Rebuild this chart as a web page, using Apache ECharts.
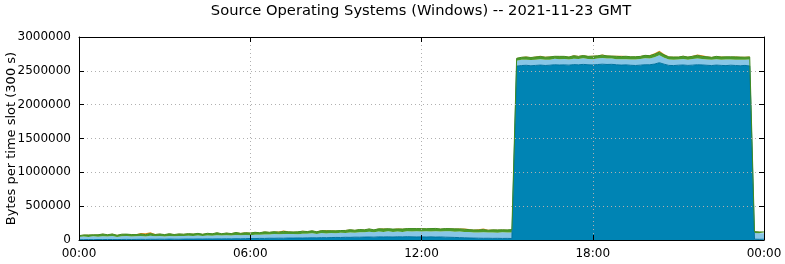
<!DOCTYPE html>
<html>
<head>
<meta charset="utf-8">
<script src="https://cdn.jsdelivr.net/npm/echarts@6/dist/echarts.min.js"></script>
<style>
html,body{margin:0;padding:0;background:#fff;}
#c{width:785px;height:264px;}
</style>
</head>
<body>
<div id="c"></div>
<script>
// Time slots: 10-minute samples across the day (00:00 .. 24:00)
const slotMinutes = 10;
const slotCount = 145; // includes closing 00:00 boundary
const tickEverySlots = 36; // 6 hours
const seriesNames = ["os-a", "os-b", "os-c", "os-d"];

// Values in thousands of bytes per 300 s slot
const osA = [
  4,5,6,5,7,6,8,7,6,8,9,8,
  9,10,9,11,10,12,11,13,12,11,13,14,
  13,15,14,16,15,17,16,18,17,19,18,20,
  22,21,24,23,26,25,27,26,29,28,30,29,
  31,33,32,35,34,36,38,37,40,39,42,41,
  43,44,42,46,45,47,44,48,46,49,47,45,
  46,44,47,43,45,42,40,38,35,33,30,28,
  27,25,26,24,25,23,24,22,
  2570,2578,2582,2575,2580,2585,2579,2583,2590,2586,
  2588,2584,2592,2589,2595,2590,2587,2593,2598,2594,
  2596,2590,2585,2588,2582,2579,2584,2590,2590,2600,
  2620,2598,2580,2578,2583,2586,2580,2584,2590,2587,
  2582,2578,2585,2580,2577,2583,2579,2575,2580,2572,
  12,10,11
];
const osB = [
  40,45,38,50,42,48,44,52,40,46,50,43,
  45,48,42,50,44,46,40,47,43,49,45,48,
  46,50,44,52,47,55,49,53,48,56,51,54,
  50,58,53,60,55,62,57,64,58,61,56,63,
  60,65,58,68,62,66,60,70,64,72,66,75,
  70,78,72,80,74,82,76,79,73,81,77,84,
  80,85,78,88,82,86,90,84,92,86,88,82,
  85,90,84,88,83,92,86,90,
  80,84,82,86,83,88,85,82,87,84,
  86,83,88,85,90,86,84,89,92,88,
  85,83,87,84,86,88,90,95,92,100,
  110,95,88,86,84,88,85,90,94,88,
  86,84,87,85,89,86,84,88,85,95,
  90,88,87
];
const osC = [
  20,25,30,22,28,35,26,30,24,32,28,30,
  26,30,28,34,27,31,29,33,26,30,28,32,
  29,33,27,31,30,35,28,32,30,36,29,34,
  31,35,30,38,33,36,32,37,34,30,35,38,
  34,38,32,36,40,35,38,33,37,41,36,39,
  38,42,36,40,44,38,41,37,43,39,45,40,
  42,38,44,40,36,41,38,43,37,40,35,39,
  36,40,34,38,41,36,39,42,
  35,38,40,36,42,39,37,41,38,44,
  40,37,43,39,41,38,45,40,42,39,
  37,41,38,43,40,42,39,44,42,46,
  45,43,38,40,37,42,39,41,44,38,
  40,37,42,39,41,38,43,40,36,38,
  22,20,21
];
const osD = [
  3,4,3,5,4,3,4,3,5,4,3,4,
  6,14,20,18,8,4,3,4,5,3,4,3,
  4,3,5,4,3,4,3,5,4,3,4,5,
  4,3,5,4,3,4,8,14,7,4,3,5,
  4,5,3,10,12,6,4,3,5,4,3,4,
  5,4,3,4,6,4,3,5,4,3,4,5,
  4,3,5,4,3,4,5,4,6,12,8,4,
  10,14,6,4,3,5,4,3,
  4,5,6,4,8,10,6,5,4,6,
  5,4,6,5,7,4,6,5,8,6,
  5,10,12,6,5,4,6,5,10,15,
  22,12,6,4,5,6,5,8,14,16,
  6,5,4,6,5,4,6,5,8,6,
  4,3,3
];

const colors = ["#0084b4", "#88c6e6", "#4c9a2a", "#e0881a"];
const lineColors = ["#00729e", "#88c6e6", "#3f8c22", "#e0881a"];
const lineWidths = [1, 0, 1, 0];
const allSeries = [osA, osB, osC, osD];

const pad2 = n => String(n).padStart(2, '0');
const categories = Array.from({length: slotCount}, (_, i) => {
  const m = (i * slotMinutes) % 1440;
  return pad2(Math.floor(m / 60)) + ':' + pad2(m % 60);
});

const chart = echarts.init(document.getElementById('c'), null, {renderer: 'canvas'});
const font = "DejaVu Sans";
const axisLine = {show: true, onZero: false, lineStyle: {color: '#000', width: 1}};
const tickIn = {show: true, inside: true, length: 5, interval: tickEverySlots - 1, lineStyle: {color: '#000'}};
const yTickIn = {show: true, inside: true, length: 5, lineStyle: {color: '#000'}};
const gridLine = {lineStyle: {color: '#b0b0b0', type: [1, 3], width: 1}};

chart.setOption({
  animation: false,
  backgroundColor: '#fff',
  title: {
    text: 'Source Operating Systems (Windows) -- 2021-11-23 GMT',
    left: 421, top: 4, textAlign: 'center', padding: 0,
    textStyle: {fontFamily: font, fontSize: 14.7, fontWeight: 'normal', color: '#000'}
  },
  grid: {left: 79, right: 21, top: 37, bottom: 24, outerBoundsMode: 'none', containLabel: false,
    show: false},
  xAxis: [{
    type: 'category', data: categories, boundaryGap: false,
    axisLine: axisLine, axisTick: tickIn,
    axisLabel: {fontFamily: font, fontSize: 12, color: '#000', margin: 8, interval: tickEverySlots - 1,
      showMinLabel: true, showMaxLabel: true},
    splitLine: {show: true, interval: tickEverySlots - 1, showMinLine: false, showMaxLine: false, ...gridLine},
    z: 10
  }, {
    type: 'category', data: categories, boundaryGap: false, position: 'top',
    axisLine: axisLine, axisTick: tickIn, axisLabel: {show: false}, splitLine: {show: false},
    z: 10
  }],
  yAxis: [{
    type: 'value', min: 0, max: 3000000, interval: 500000,
    name: 'Bytes per time slot (300 s)', nameLocation: 'middle', nameGap: 61, nameMoveOverlap: false,
    nameTextStyle: {fontFamily: font, fontSize: 13, color: '#000'},
    axisLine: axisLine, axisTick: yTickIn,
    axisLabel: {fontFamily: font, fontSize: 12, color: '#000', margin: 8, formatter: v => String(v)},
    splitLine: {show: true, showMinLine: false, showMaxLine: false, ...gridLine},
    z: 10
  }, {
    type: 'value', position: 'right', min: 0, max: 3000000, interval: 500000,
    axisLine: axisLine, axisTick: yTickIn,
    axisLabel: {show: false}, splitLine: {show: false},
    z: 10
  }],
  series: allSeries.map((arr, k) => ({
    name: seriesNames[k],
    type: 'line', stack: 'total', symbol: 'none', smooth: false,
    xAxisIndex: 0, yAxisIndex: 0,
    data: arr.map(v => v * 1000),
    lineStyle: {color: lineColors[k], width: lineWidths[k]},
    itemStyle: {color: colors[k]},
    areaStyle: {color: colors[k], opacity: 1},
    z: 2
  }))
});
</script>
</body>
</html>
